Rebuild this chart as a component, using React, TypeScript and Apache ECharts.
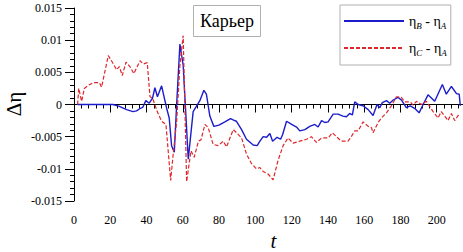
import React, { useEffect, useRef } from "react";
import * as echarts from "echarts";

const tB = [2, 21.5, 25, 29, 32.5, 34.5, 36, 38, 39.6, 41.5, 43.3, 44.6, 46, 48.3, 51, 52.5, 53.8, 55.3, 56.6, 58.4, 60.2, 63, 65.7, 69.4, 71.6, 73, 74.9, 77.1, 79.9, 83.2, 86.3, 87.7, 89.5, 92.4, 95.1, 98.8, 101, 102.5, 104.3, 106.2, 108, 109.5, 112, 113.9, 115, 117.2, 120, 122.7, 124.5, 127.3, 130, 132.8, 134.6, 136.5, 138.3, 140.1, 142.9, 145.6, 148.3, 150.2, 152, 153.5, 154.8, 156.7, 159.4, 162.2, 164.9, 167.1, 168.6, 170, 172.3, 174.1, 176, 178.7, 180.5, 183.2, 185.4, 187.8, 190.3, 192.5, 195.2, 198.9, 203.1, 205.3, 208.1, 210.9, 212.4, 213];
const vB = [0, 0, -0.0003, -0.0008, -0.0011, -0.001, -0.0007, -0.0004, 0.0006, 0.0002, 0.001, 0.0026, 0.0012, 0.0029, -0.0005, -0.0021, -0.0064, -0.0074, 0, 0.0094, 0.0061, -0.0085, -0.0011, 0.0006, 0.0022, 0.0016, -0.0018, -0.0034, -0.0032, -0.0027, -0.0022, -0.0024, -0.0026, -0.0039, -0.0054, -0.0063, -0.0064, -0.0057, -0.005, -0.0051, -0.0045, -0.0057, -0.0051, -0.0054, -0.0047, -0.0026, -0.0031, -0.0035, -0.0041, -0.0039, -0.0034, -0.0031, -0.0035, -0.0025, -0.0028, -0.0027, -0.0015, -0.0015, -0.0018, -0.0019, -0.0014, -0.0016, 0.0004, 0, -0.0002, -0.0008, -0.0017, 0, -0.0005, 0.0003, 0.0006, 0.0002, 0.0007, 0.0011, 0.0007, -0.0005, -0.0002, -0.0006, -0.0013, 0, 0.0015, 0.0005, 0.0031, 0.0016, 0.0028, 0.0017, 0.0016, -0.0002];

const tC = [2, 2.6, 4.2, 5.7, 8, 10.6, 14, 15.2, 18.9, 21.7, 23.5, 25, 26.6, 28.7, 30.8, 33, 36.4, 38.2, 40.4, 41.9, 43.3, 45.9, 48.3, 50.7, 53.3, 54.7, 56.6, 58.4, 60.2, 62.1, 64.5, 66.3, 68.6, 70, 72.2, 74, 76.7, 79.5, 82.3, 84.1, 87.8, 90, 92.4, 95.1, 97.9, 100.6, 102.5, 104.3, 107, 109.8, 112.5, 115.3, 118, 120.8, 124.5, 128.2, 130.9, 133.7, 136.5, 140.1, 142.5, 144.7, 147.4, 151.1, 152.9, 154.8, 156.7, 159.4, 162.2, 164, 164.9, 167.7, 169.5, 172.3, 175, 177.8, 180.5, 182.4, 185.4, 187, 188.8, 191.6, 194.3, 198, 200.7, 202.5, 204.4, 206.2, 208.1, 209.9, 212.6];
const vC = [0, 0.0025, 0.0005, 0.0025, 0.003, 0.0034, 0.0034, 0.0027, 0.0076, 0.0063, 0.0054, 0.0059, 0.0045, 0.0066, 0.0059, 0.0048, 0.0068, 0.0063, 0.0065, 0.0012, 0.001, -0.0011, -0.0026, -0.0031, -0.0118, -0.0077, -0.0026, 0.0061, 0.0107, -0.012, -0.0072, -0.0082, -0.0057, -0.0055, -0.0031, -0.0036, -0.0062, -0.0064, -0.0057, -0.0066, -0.0039, -0.0045, -0.0052, -0.0077, -0.0092, -0.01, -0.0098, -0.0104, -0.0108, -0.0117, -0.0087, -0.0064, -0.0052, -0.006, -0.0057, -0.0054, -0.005, -0.0059, -0.0052, -0.0052, -0.0044, -0.005, -0.0057, -0.0057, -0.005, -0.0041, -0.0041, -0.0027, -0.0034, -0.0036, -0.0044, -0.0028, -0.0021, -0.0013, -0.0002, 0.0012, 0.0011, 0.0004, 0.0004, -0.0001, 0.0005, 0, 0.0005, -0.0011, -0.0021, -0.0011, -0.0018, -0.0025, -0.0014, -0.0025, -0.0014];

const SERIF = "Liberation Serif";

export default function App() {
  const ref = useRef<HTMLDivElement>(null);
  useEffect(() => {
    if (!ref.current) return;
    const chart = echarts.init(ref.current, undefined, { renderer: "svg" });
    const rich = {
      a: { fontFamily: SERIF, fontSize: 14, color: "#000" },
      s: { fontFamily: SERIF, fontSize: 9, fontStyle: "italic", color: "#000", padding: [9, 0, 0, 0] },
    };
    const lab = { fontFamily: SERIF, fontSize: 12, color: "#000" };
    chart.setOption({
      animation: false,
      backgroundColor: "#fff",
      textStyle: { fontFamily: SERIF },
      title: {
        text: "Карьер",
        left: 193,
        top: 5,
        padding: [7, 7, 7, 7],
        borderWidth: 1,
        borderColor: "#b0b0b0",
        textStyle: { fontFamily: SERIF, fontSize: 18, fontWeight: "normal", color: "#000" },
      },
      legend: {
        left: 340,
        top: 5,
        orient: "vertical",
        padding: [9, 4, 8, 3],
        itemGap: 11,
        itemWidth: 60,
        itemHeight: 14,
        borderWidth: 1,
        borderColor: "#b0b0b0",
        itemStyle: { opacity: 0 },
        data: ["B", "C"],
        formatter: (n: string) => `{a|η}{s|${n}}{a| - η}{s|A}`,
        textStyle: { fontFamily: SERIF, rich },
      },
      graphic: [
        {
          type: "text",
          x: 14,
          y: 104,
          rotation: Math.PI / 2,
          style: {
            text: "Δη",
            font: "21px Liberation Serif",
            fill: "#000",
            align: "center",
            verticalAlign: "middle",
          },
        },
      ],
      grid: { left: 74, right: -10, top: 8, bottom: 51, containLabel: false, outerBoundsMode: "none" },
      xAxis: {
        type: "value",
        min: 0,
        max: 220,
        interval: 20,
        name: "t",
        nameLocation: "middle",
        nameGap: 29,
        nameTextStyle: { fontFamily: SERIF, fontSize: 21, fontStyle: "italic", color: "#000" },
        axisLine: { lineStyle: { color: "#000", width: 1 } },
        axisTick: { length: 8, lineStyle: { color: "#000" } },
        minorTick: { show: true, splitNumber: 5, length: 4, lineStyle: { color: "#000" } },
        axisLabel: {
          ...lab,
          margin: 13,
          formatter: (v: number) => (v <= 200 ? String(v) : ""),
        },
        splitLine: { show: false },
      },
      yAxis: {
        type: "value",
        min: -0.015,
        max: 0.015,
        interval: 0.005,
        axisLine: { show: true, lineStyle: { color: "#000", width: 1 } },
        axisTick: { show: true, length: 9, lineStyle: { color: "#000" } },
        minorTick: { show: true, splitNumber: 5, length: 4, lineStyle: { color: "#000" } },
        axisLabel: { ...lab, margin: 12 },
        splitLine: { show: false },
      },
      series: [
        {
          name: "B",
          type: "line",
          symbol: "none",
          data: tB.map((t, i) => [t, vB[i]]),
          lineStyle: { color: "#1c1ccc", width: 1.4 },
          itemStyle: { color: "#1c1ccc" },
        },
        {
          name: "C",
          type: "line",
          symbol: "none",
          data: tC.map((t, i) => [t, vC[i]]),
          lineStyle: { color: "#e0262a", width: 1.2, type: [4, 2] },
          itemStyle: { color: "#e0262a" },
        },
      ],
    });
    return () => chart.dispose();
  }, []);
  return <div ref={ref} style={{ width: 463, height: 252, position: "absolute", left: 0, top: 0 }} />;
}
